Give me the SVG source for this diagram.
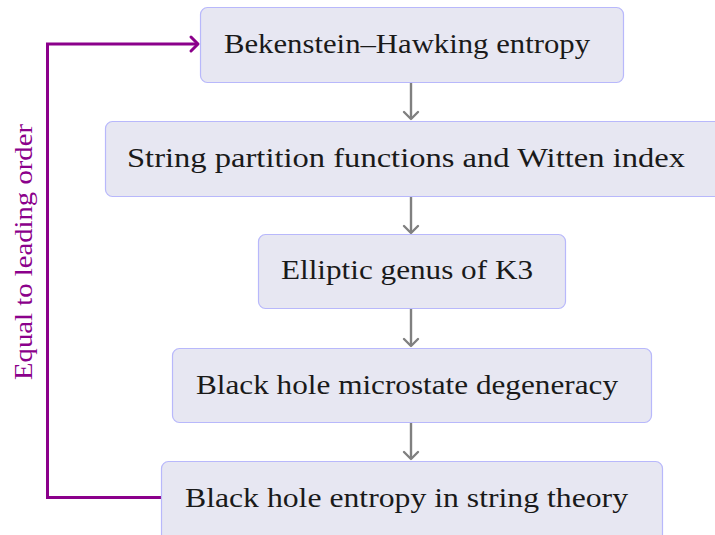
<svg xmlns="http://www.w3.org/2000/svg" width="715" height="535" viewBox="0 0 715 535">
<style>
.box{fill:#e7e7f2;stroke:#b8b8fb;stroke-width:1.2}
.t{font-family:'Liberation Serif',serif;font-size:27px;fill:#1a1a1a}
.g{stroke:#808080;stroke-width:2.4;fill:none}
.ah{fill:none;stroke-linecap:round;stroke-linejoin:round}
.p{stroke:#8b008b;stroke-width:3;fill:none}
.v{font-family:'Liberation Serif',serif;font-size:26px;fill:#8b008b}
tspan.f{font-family:'Liberation Serif',serif}
</style>
<rect width="715" height="535" fill="#fff"/>
<g id="connectors">
<path class="g" d="M411 83V119"/>
<path class="g ah" d="M404 112L411 119L418 112"/>
<path class="g" d="M411 197V233"/>
<path class="g ah" d="M404 226L411 233L418 226"/>
<path class="g" d="M411 309V346"/>
<path class="g ah" d="M404 339L411 346L418 339"/>
<path class="g" d="M411 423V459"/>
<path class="g ah" d="M404 452L411 459L418 452"/>
<path class="p" d="M161 497.5H47.5V44H198"/>
<path class="p ah" d="M191 37L198 44L191 51"/>
<text class="v" font-family="Liberation Serif" x="0" y="0" transform="translate(32 252) rotate(-90)" text-anchor="middle" textLength="256" lengthAdjust="spacingAndGlyphs"><tspan class="f" font-family="Liberation Serif">Equal to leading order</tspan></text>
</g>
<g id="n1"><rect class="box" x="200.5" y="7.5" width="423" height="75" rx="7"/><text class="t" font-family="Liberation Serif" x="224" y="53" textLength="366" lengthAdjust="spacingAndGlyphs"><tspan class="f" font-family="Liberation Serif">Bekenstein–Hawking entropy</tspan></text></g>
<g id="n2"><rect class="box" x="105.5" y="121.5" width="620" height="75" rx="7"/><text class="t" font-family="Liberation Serif" x="127" y="167" textLength="558" lengthAdjust="spacingAndGlyphs"><tspan class="f" font-family="Liberation Serif">String partition functions and Witten index</tspan></text></g>
<g id="n3"><rect class="box" x="258.5" y="234.5" width="307" height="74" rx="7"/><text class="t" font-family="Liberation Serif" x="281" y="279" textLength="252" lengthAdjust="spacingAndGlyphs"><tspan class="f" font-family="Liberation Serif">Elliptic genus of K3</tspan></text></g>
<g id="n4"><rect class="box" x="172.5" y="348.5" width="479" height="74" rx="7"/><text class="t" font-family="Liberation Serif" x="196" y="394" textLength="422" lengthAdjust="spacingAndGlyphs"><tspan class="f" font-family="Liberation Serif">Black hole microstate degeneracy</tspan></text></g>
<g id="n5"><rect class="box" x="161.5" y="461.5" width="501" height="80" rx="7"/><text class="t" font-family="Liberation Serif" x="185" y="507" textLength="443" lengthAdjust="spacingAndGlyphs"><tspan class="f" font-family="Liberation Serif">Black hole entropy in string theory</tspan></text></g>
</svg>
